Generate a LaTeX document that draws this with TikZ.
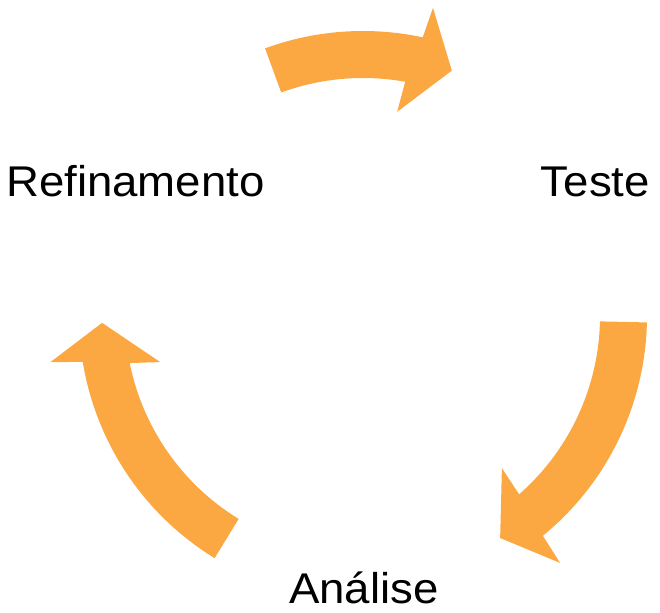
\documentclass[tikz,border=0pt]{standalone}
\usepackage{fontspec}
\setmainfont{Liberation Sans}[FakeStretch=1.06]
\definecolor{arroworange}{RGB}{251,168,66}
\tikzset{
  cyclearrow/.style={fill=arroworange, draw=none},
  lbl/.style={inner sep=0pt, font=\fontsize{43}{50}\selectfont, text=black}
}
\begin{document}
\begin{tikzpicture}[x=1pt,y=1pt]
\useasboundingbox (0,0) rectangle (660,612);
\coordinate (c) at (363,296);
% top arrow (Refinamento -> Teste)
\path[cyclearrow] ([shift={(c)}]110.1:285pt) arc[start angle=110.1, end angle=77.9, radius=285pt]
  -- ([shift={(c)}]77.2:316pt) -- ([shift={(c)}]70.1:261pt) -- ([shift={(c)}]80.5:207pt)
  -- ([shift={(c)}]79.8:238pt) arc[start angle=79.8, end angle=110.1, radius=238pt] -- cycle;
% right arrow (Teste -> Analise)
\path[cyclearrow] ([shift={(c)}]-1.3:284pt) arc[start angle=-1.3, end angle=-50.7, radius=284pt]
  -- ([shift={(c)}]-51.4:316pt) -- ([shift={(c)}]-58.3:261pt) -- ([shift={(c)}]-47.6:206pt)
  -- ([shift={(c)}]-48.8:237pt) arc[start angle=-48.8, end angle=-1.3, radius=237pt] -- cycle;
% left arrow (Analise -> Refinamento)
\path[cyclearrow] ([shift={(c)}]238.5:284pt) arc[start angle=238.5, end angle=189.3, radius=284pt]
  -- ([shift={(c)}]188.4:316pt) -- ([shift={(c)}]181.5:261pt) -- ([shift={(c)}]192.8:208pt)
  -- ([shift={(c)}]191.4:238pt) arc[start angle=191.4, end angle=238.5, radius=238pt] -- cycle;
\node[lbl, anchor=base west] (refin) at (6,415) {Refinamento};
\node[lbl, anchor=base east] (teste) at (650,415) {Teste};
\node[lbl, anchor=base west] (anal) at (289,9) {Análise};
\end{tikzpicture}
\end{document}
